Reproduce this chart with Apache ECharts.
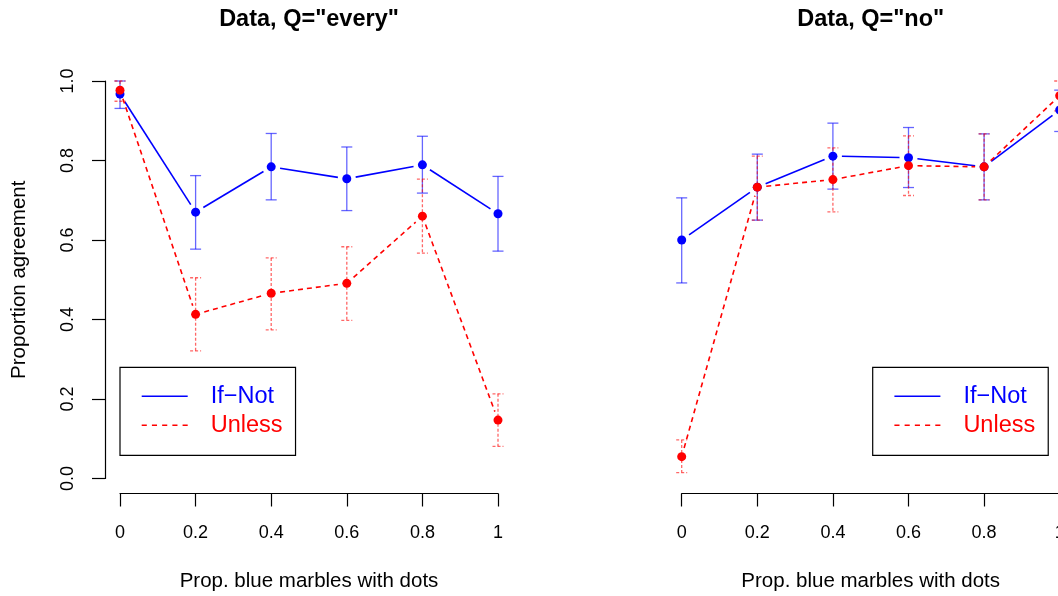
<!DOCTYPE html>
<html lang="en">
<head>
    <meta charset="UTF-8">
    <title>Proportion agreement by condition</title>
    <script src="https://cdn.jsdelivr.net/npm/echarts@6/dist/echarts.min.js"></script>
    <style>
        body {
            margin: 0;
            padding: 0;
            background: #fff;
        }
        #chart {
            width: 1058px;
            height: 596px;
        }
    </style>
</head>
<body>
<div id="chart"></div>

<script>
    // proportion of blue marbles with dots (x)
    const xs = [0, 0.2, 0.4, 0.6, 0.8, 1];
    const xTicks = ['0', '0.2', '0.4', '0.6', '0.8', '1'];

    // Q = "every"
    const everyIfNot   = [0.967, 0.670, 0.784, 0.754, 0.789, 0.666];
    const everyIfNotLo = [0.931, 0.577, 0.701, 0.674, 0.718, 0.572];
    const everyIfNotHi = [1.000, 0.762, 0.868, 0.834, 0.861, 0.760];
    const everyUnless   = [0.977, 0.413, 0.466, 0.491, 0.660, 0.147];
    const everyUnlessLo = [0.949, 0.321, 0.374, 0.398, 0.567, 0.081];
    const everyUnlessHi = [1.000, 0.505, 0.555, 0.583, 0.753, 0.213];

    // Q = "no"
    const noIfNot   = [0.600, 0.733, 0.811, 0.807, 0.784, 0.927];
    const noIfNotLo = [0.492, 0.650, 0.728, 0.732, 0.701, 0.873];
    const noIfNotHi = [0.706, 0.816, 0.894, 0.883, 0.867, 0.977];
    const noUnless   = [0.055, 0.733, 0.752, 0.787, 0.784, 0.963];
    const noUnlessLo = [0.015, 0.650, 0.671, 0.712, 0.701, 0.925];
    const noUnlessHi = [0.097, 0.811, 0.832, 0.862, 0.867, 1.000];

    const IFNOT = 'If\u2212Not';
    const UNLESS = 'Unless';

    const FONT = '"Liberation Sans", Arial, sans-serif';
    const BLUE = '#0000ff';
    const RED = '#ff0000';
    const GAP = 9; // R type="b" leaves a gap round each point

    const chart = echarts.init(document.getElementById('chart'));

    function segments(ys) {
        const out = [];
        for (let i = 0; i < xs.length - 1; i++) {
            out.push([xs[i], ys[i], xs[i + 1], ys[i + 1]]);
        }
        return out;
    }

    function lineSeries(name, idx, ys, color, dash) {
        return {
            name: name,
            type: 'custom',
            xAxisIndex: idx,
            yAxisIndex: idx,
            encode: { x: [0, 2], y: [1, 3] },
            data: segments(ys),
            silent: true,
            renderItem: function (params, api) {
                const p1 = api.coord([api.value(0), api.value(1)]);
                const p2 = api.coord([api.value(2), api.value(3)]);
                const dx = p2[0] - p1[0], dy = p2[1] - p1[1];
                const len = Math.sqrt(dx * dx + dy * dy);
                const ux = dx / len, uy = dy / len;
                return {
                    type: 'line',
                    shape: {
                        x1: p1[0] + ux * GAP, y1: p1[1] + uy * GAP,
                        x2: p2[0] - ux * GAP, y2: p2[1] - uy * GAP
                    },
                    style: { stroke: color, lineWidth: 1.6, lineDash: dash }
                };
            }
        };
    }

    function errSeries(name, idx, lo, hi, color, dash) {
        return {
            name: name,
            type: 'custom',
            xAxisIndex: idx,
            yAxisIndex: idx,
            encode: { x: 0, y: [1, 2] },
            data: xs.map((x, i) => [x, lo[i], hi[i]]),
            silent: true,
            renderItem: function (params, api) {
                const top = api.coord([api.value(0), api.value(2)]);
                const bot = api.coord([api.value(0), api.value(1)]);
                const w = 5.5;
                const st = { stroke: color, lineWidth: 1.3, lineDash: dash, opacity: 0.6 };
                return {
                    type: 'group',
                    children: [
                        { type: 'line', shape: { x1: top[0], y1: top[1], x2: bot[0], y2: bot[1] }, style: st },
                        { type: 'line', shape: { x1: top[0] - w, y1: top[1], x2: top[0] + w, y2: top[1] }, style: st },
                        { type: 'line', shape: { x1: bot[0] - w, y1: bot[1], x2: bot[0] + w, y2: bot[1] }, style: st }
                    ]
                };
            }
        };
    }

    function pointSeries(name, idx, ys, color) {
        return {
            name: name,
            type: 'scatter',
            xAxisIndex: idx,
            yAxisIndex: idx,
            symbol: 'circle',
            symbolSize: 9,
            clip: false,
            itemStyle: { color: color, opacity: 1 },
            data: xs.map((x, i) => [x, ys[i]]),
            silent: true
        };
    }

    function panel(idx, ifNot, ifNotLo, ifNotHi, unless, unlessLo, unlessHi) {
        return [
            errSeries(IFNOT, idx, ifNotLo, ifNotHi, BLUE, null),
            lineSeries(IFNOT, idx, ifNot, BLUE, null),
            pointSeries(IFNOT, idx, ifNot, BLUE),
            errSeries(UNLESS, idx, unlessLo, unlessHi, RED, [3, 2]),
            lineSeries(UNLESS, idx, unless, RED, [5, 4]),
            pointSeries(UNLESS, idx, unless, RED)
        ];
    }

    const gridLefts = [120, 681.7];
    const legendLefts = [120, 872.7];
    const PW = 378;
    const PTOP = 81;
    const PH = 397.5;
    const AXGAP = 15; // R draws the axes 4% outside the data range

    const axisLineStyle = { color: '#000', width: 1.2 };

    function hiddenAxis(gi) {
        return { type: 'value', gridIndex: gi, min: 0, max: 1, interval: 0.2, show: false };
    }

    function xAxisFor(gi) {
        return {
            type: 'value',
            gridIndex: gi,
            min: 0, max: 1, interval: 0.2,
            splitLine: { show: false },
            axisLine: { show: true, lineStyle: axisLineStyle },
            axisTick: { show: true, length: 13, lineStyle: axisLineStyle },
            axisLabel: {
                color: '#000', fontFamily: FONT, fontSize: 18, margin: 31,
                formatter: v => xTicks[Math.round(v * 5)]
            },
            name: 'Prop. blue marbles with dots',
            nameLocation: 'middle',
            nameGap: 77,
            nameTextStyle: { color: '#000', fontFamily: FONT, fontSize: 20.5 }
        };
    }

    function legendFor(idx) {
        return {
            left: legendLefts[idx],
            top: 367.3,
            orient: 'vertical',
            selectedMode: false,
            borderColor: '#000',
            borderWidth: 1.2,
            borderRadius: 0,
            padding: [16, 13, 17, 21.7],
            itemWidth: 46,
            itemHeight: 2,
            itemGap: 3,
            textStyle: { fontFamily: FONT, fontSize: 23.5, lineHeight: 26, padding: [0, 0, 0, 18] },
            data: [
                {
                    name: IFNOT,
                    icon: 'path://M0,0h46v1.5h-46z',
                    itemStyle: { color: BLUE },
                    textStyle: { color: BLUE }
                },
                {
                    name: UNLESS,
                    icon: 'path://M0,0h5v1.5h-5zM10,0h5v1.5h-5zM20,0h5v1.5h-5zM30,0h5v1.5h-5zM40,0h5v1.5h-5z',
                    itemStyle: { color: RED },
                    textStyle: { color: RED }
                }
            ]
        };
    }

    const titleStyle = { fontFamily: FONT, fontSize: 23.5, fontWeight: 'bold', color: '#000' };

    const option = {
        backgroundColor: '#fff',
        animation: false,
        title: [
            // title padding is 5, so shift the anchor back by it
            { text: 'Data, Q="every"', left: gridLefts[0] + PW / 2 - 5, top: 3, textAlign: 'center', textStyle: titleStyle },
            { text: 'Data, Q="no"', left: gridLefts[1] + PW / 2 - 5, top: 3, textAlign: 'center', textStyle: titleStyle }
        ],
        legend: [legendFor(0), legendFor(1)],
        grid: [
            // 0, 1: data panels
            { left: gridLefts[0], top: PTOP, width: PW, height: PH, outerBoundsMode: 'none' },
            { left: gridLefts[1], top: PTOP, width: PW, height: PH, outerBoundsMode: 'none' },
            // 2, 3: hosts for the x axes, pushed down
            { left: gridLefts[0], top: PTOP, width: PW, height: PH + AXGAP, outerBoundsMode: 'none' },
            { left: gridLefts[1], top: PTOP, width: PW, height: PH + AXGAP, outerBoundsMode: 'none' },
            // 4: host for the left y axis, pushed left
            { left: gridLefts[0] - AXGAP, top: PTOP, width: PW + AXGAP, height: PH, outerBoundsMode: 'none' }
        ],
        xAxis: [hiddenAxis(0), hiddenAxis(1), xAxisFor(2), xAxisFor(3), hiddenAxis(4)],
        yAxis: [
            hiddenAxis(0), hiddenAxis(1), hiddenAxis(2), hiddenAxis(3),
            {
                type: 'value',
                gridIndex: 4,
                min: 0, max: 1, interval: 0.2,
                splitLine: { show: false },
                axisLine: { show: true, lineStyle: axisLineStyle },
                axisTick: { show: true, length: 13, lineStyle: axisLineStyle },
                axisLabel: {
                    color: '#000', fontFamily: FONT, fontSize: 18, margin: 28, rotate: 90,
                    formatter: v => v.toFixed(1)
                },
                name: 'Proportion agreement',
                nameLocation: 'middle',
                nameGap: 75,
                nameTextStyle: { color: '#000', fontFamily: FONT, fontSize: 20.5 }
            }
        ],
        series: [].concat(
            panel(0, everyIfNot, everyIfNotLo, everyIfNotHi, everyUnless, everyUnlessLo, everyUnlessHi),
            panel(1, noIfNot, noIfNotLo, noIfNotHi, noUnless, noUnlessLo, noUnlessHi)
        )
    };

    chart.setOption(option);
    window.addEventListener('resize', chart.resize);
</script>
</body>
</html>
